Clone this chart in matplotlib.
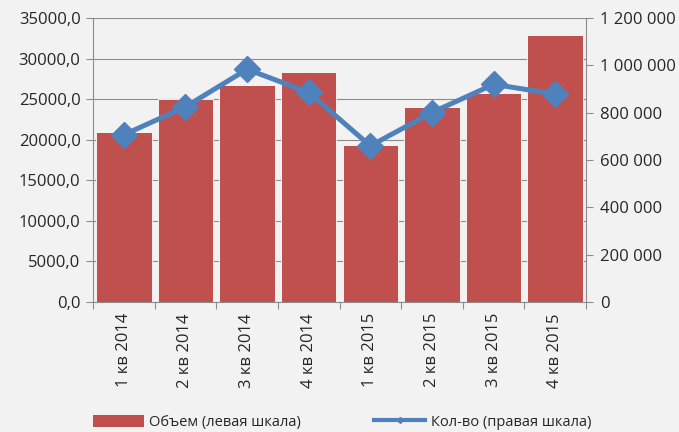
import matplotlib
matplotlib.use("Agg")
import matplotlib.pyplot as plt
from matplotlib.lines import Line2D
from matplotlib.patches import Patch
from matplotlib.ticker import FuncFormatter, MultipleLocator
import numpy as np

# Данные по кварталам
kvartaly = ["1 кв 2014", "2 кв 2014", "3 кв 2014", "4 кв 2014",
            "1 кв 2015", "2 кв 2015", "3 кв 2015", "4 кв 2015"]
obem = [21000, 25000, 26800, 28400, 19400, 24000, 25800, 32900]
kolvo = [707000, 825000, 984000, 886000, 660000, 801000, 920000, 879000]

bar_color = "#C0504D"
line_color = "#4F81BD"
bg = "#F2F2F2"
grid_col = "#8C8C8C"
text_col = "#262626"

plt.rcParams["font.family"] = ["Open Sans", "DejaVu Sans"]
plt.rcParams["font.size"] = 10

fig = plt.figure(figsize=(6.79, 4.32), dpi=100, facecolor=bg)
ax = fig.add_axes([0.137, 0.301, 0.726, 0.657])
ax.set_facecolor(bg)

x = np.arange(len(kvartaly))
ax.bar(x, obem, width=0.9, color=bar_color, edgecolor="white", linewidth=0.6, zorder=2)
ax.set_xlim(-0.5, len(kvartaly) - 0.5)
ax.set_ylim(0, 35000)
ax.yaxis.set_major_locator(MultipleLocator(5000))
ax.yaxis.set_major_formatter(FuncFormatter(lambda v, p: f"{v:.1f}".replace(".", ",")))
ax.grid(axis="y", color=grid_col, linewidth=0.8, zorder=0)
ax.set_axisbelow(True)

ax.set_xticks(np.arange(-0.5, len(kvartaly), 1.0))
ax.set_xticklabels([])
ax.set_xticks(x, minor=True)
ax.set_xticklabels(kvartaly, minor=True, rotation=90, va="top", ha="center")
ax.tick_params(axis="x", which="minor", length=0, pad=8, colors=text_col, labelsize=12)
ax.tick_params(axis="x", which="major", length=5, color=grid_col)
ax.tick_params(axis="y", length=5, color=grid_col, labelcolor=text_col, labelsize=12, pad=4)

for s in ["top", "right"]:
    ax.spines[s].set_visible(False)
for s in ["left", "bottom"]:
    ax.spines[s].set_color(grid_col)
    ax.spines[s].set_linewidth(0.8)

ax2 = ax.twinx()
ax2.plot(x, kolvo, color=line_color, linewidth=3.6, marker="D", markersize=13,
         markeredgecolor=line_color, zorder=3)
ax2.set_ylim(0, 1200000)
ax2.yaxis.set_major_locator(MultipleLocator(200000))
ax2.yaxis.set_major_formatter(FuncFormatter(lambda v, p: f"{int(v):,}".replace(",", " ")))
ax2.tick_params(axis="y", length=5, color=grid_col, labelcolor=text_col, labelsize=12, pad=5)
for s in ["top", "left", "bottom"]:
    ax2.spines[s].set_visible(False)
ax2.spines["right"].set_color(grid_col)
ax2.spines["right"].set_linewidth(0.8)

handles = [Patch(facecolor=bar_color, edgecolor="none"),
           Line2D([0], [0], color=line_color, linewidth=3, marker="D", markersize=3)]
labels = ["Объем (левая шкала)", "Кол-во (правая шкала)"]
fig.legend(handles, labels, loc="center left", bbox_to_anchor=(0.117, 0.023), ncol=2,
           frameon=False, handlelength=3.5, handleheight=0.9, handletextpad=0.4,
           columnspacing=5.0, fontsize=10.5, labelcolor=text_col)

fig.savefig("out.png", dpi=100, facecolor=bg)
